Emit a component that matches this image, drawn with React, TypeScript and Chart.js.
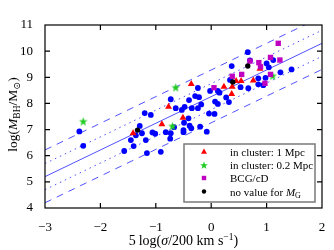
import { useEffect, useRef } from 'react';
import { Chart, registerables } from 'chart.js';
Chart.register(...registerables);

// ---- data ----
const blueX = [-2.38, -2.31, -1.29, -1.36, -1.45, -1.40, -1.57, -1.16, -1.06, -1.01, -1.25, -1.18, -0.91, -0.73, -1.20, -1.09, -0.64, -0.48, -0.53, -0.40, -0.29, -0.22, -0.18, -0.35, -0.24, -0.04, 0.06, -0.41, -0.49, -0.67, -0.50, -0.50, -0.36, -0.39, -0.20, -0.08, -0.82, -0.73, -0.74, 0.66, 0.37, 1.00, 1.04, 1.12, 0.70, 0.98, 0.85, 0.85, 0.34, 0.67, 0.53, 0.15, 0.27, 0.32, 0.07, 0.12, -0.24, -0.02, 0.12, 1.25, 1.45, 0.94];
const blueY = [6.93, 6.38, 7.14, 6.78, 6.60, 6.37, 6.18, 6.10, 6.89, 6.84, 6.86, 6.60, 6.15, 8.16, 7.63, 7.56, 7.82, 7.87, 7.75, 8.13, 8.28, 8.24, 7.96, 7.82, 7.82, 7.61, 7.60, 7.43, 7.26, 7.09, 6.98, 6.90, 7.05, 7.15, 7.11, 6.92, 6.90, 6.86, 6.65, 9.96, 9.43, 9.53, 9.38, 9.66, 9.65, 8.98, 8.96, 8.73, 8.90, 8.58, 8.62, 8.41, 8.23, 8.05, 8.07, 7.98, 8.59, 8.48, 8.48, 9.19, 9.30, 8.70];

const redX = [-1.41, -0.36, -0.77, -0.89, -0.51, 0.88, 0.45, 0.54, 0.76, 0.23, 0.38, 0.37];
const redY = [6.86, 8.74, 7.87, 7.20, 7.45, 9.33, 8.86, 8.86, 8.88, 8.64, 8.64, 8.36];

const greenX = [-2.31, -0.64, -0.70, 1.11];
const greenY = [7.32, 8.62, 7.14, 9.06];

const magX = [1.21, 0.70, 0.86, 1.07, 1.24, 1.07, 0.97, 0.55, 0.38, 0.05, 0.89];
const magY = [10.30, 9.62, 9.56, 9.76, 9.66, 9.11, 8.77, 9.11, 9.04, 8.60, 9.40];

const blackX = [-1.33, 0.66, 0.39];
const blackY = [6.98, 9.43, 8.82];

// fit lines (end points read at x = -3 and x = 2)
const fitX = [-3, 2];
const fitMid = [5.2, 10.3];
const fitDotUp = [5.7, 10.8];
const fitDotLo = [4.7, 9.8];
const fitDashUp = [6.22, 11.32];
const fitDashLo = [4.2, 9.3];

const xTicks = [-3, -2, -1, 0, 1, 2];
const yTicks = [4, 5, 6, 7, 8, 9, 10, 11];

const legendLabels = ['in cluster: 1 Mpc', 'in cluster: 0.2 Mpc', 'BCG/cD', 'no value for '];

const SERIF = '"Liberation Serif", "DejaVu Serif", serif';

const pts = (xs: number[], ys: number[]) => xs.map((x, i) => ({ x, y: ys[i] }));

function makeStar(size: number, color: string) {
  const c = document.createElement('canvas');
  c.width = size;
  c.height = size;
  const g = c.getContext('2d')!;
  g.beginPath();
  for (let i = 0; i < 10; i++) {
    const r = i % 2 === 0 ? size / 2 : (size / 2) * 0.42;
    const a = -Math.PI / 2 + (i * Math.PI) / 5;
    g.lineTo(size / 2 + r * Math.cos(a), size / 2 + 0.5 + r * Math.sin(a));
  }
  g.closePath();
  g.fillStyle = color;
  g.fill();
  return c;
}

type Part = { t: string; size: number; italic?: boolean; dy?: number };

function richWidth(ctx: CanvasRenderingContext2D, parts: Part[]) {
  let w = 0;
  for (const p of parts) {
    ctx.font = `${p.italic ? 'italic ' : ''}${p.size}px ${SERIF}`;
    w += ctx.measureText(p.t).width;
  }
  return w;
}

function drawRich(ctx: CanvasRenderingContext2D, parts: Part[], x: number, y: number, align: 'left' | 'center') {
  const w = richWidth(ctx, parts);
  let cx = align === 'center' ? x - w / 2 : x;
  ctx.textAlign = 'left';
  ctx.textBaseline = 'alphabetic';
  for (const p of parts) {
    ctx.font = `${p.italic ? 'italic ' : ''}${p.size}px ${SERIF}`;
    ctx.fillText(p.t, cx, y + (p.dy || 0));
    cx += ctx.measureText(p.t).width;
  }
}

const BLUE = '#0000ff';
const RED = '#ff0000';
const GREEN = '#22cc22';
const MAG = '#c000c0';
const BLACK = '#000000';
const LINE = 'rgba(50,50,255,0.85)';

export default function App() {
  const ref = useRef<HTMLCanvasElement>(null);
  useEffect(() => {
    document.body.style.margin = '0';
    const star = makeStar(9, GREEN);
    const starSmall = makeStar(8, GREEN);

    const framePlugin = {
      id: 'frame',
      afterDraw(chart: any) {
        const ctx: CanvasRenderingContext2D = chart.ctx;
        const a = chart.chartArea;
        const xs = chart.scales.x;
        const ys = chart.scales.y;
        ctx.save();
        ctx.strokeStyle = '#000';
        ctx.lineWidth = 1.2;
        ctx.strokeRect(a.left, a.top, a.right - a.left, a.bottom - a.top);
        const tl = 5;
        ctx.beginPath();
        for (const v of xTicks) {
          const px = xs.getPixelForValue(v);
          if (px <= a.left + 1 || px >= a.right - 1) continue;
          ctx.moveTo(px, a.bottom);
          ctx.lineTo(px, a.bottom - tl);
          ctx.moveTo(px, a.top);
          ctx.lineTo(px, a.top + tl);
        }
        for (const v of yTicks) {
          const py = ys.getPixelForValue(v);
          if (py <= a.top + 1 || py >= a.bottom - 1) continue;
          ctx.moveTo(a.left, py);
          ctx.lineTo(a.left + tl, py);
          ctx.moveTo(a.right, py);
          ctx.lineTo(a.right - tl, py);
        }
        ctx.stroke();

        // axis titles
        ctx.fillStyle = '#000';
        drawRich(ctx, [
          { t: '5\u2009log(', size: 14 },
          { t: 'σ', size: 14, italic: true },
          { t: '/200 km s', size: 14 },
          { t: '−1', size: 9.5, dy: -5.5 },
          { t: ')', size: 14 },
        ], (a.left + a.right) / 2, 245, 'center');

        ctx.save();
        ctx.translate(17, (a.top + a.bottom) / 2 - 2);
        ctx.rotate(-Math.PI / 2);
        drawRich(ctx, [
          { t: 'log(', size: 13.5 },
          { t: 'M', size: 13.5, italic: true },
          { t: 'BH', size: 9.5, dy: 3 },
          { t: '/M', size: 13.5 },
          { t: '⊙', size: 9.5, dy: 3 },
          { t: ')', size: 13.5 },
        ], 0, 0, 'center');
        ctx.restore();

        // legend
        const bw = 131, bh = 58;
        const bx = a.right - 7 - bw;
        const by = a.bottom - 6 - bh;
        ctx.fillStyle = '#fff';
        ctx.fillRect(bx, by, bw, bh);
        ctx.strokeStyle = '#7a7a7a';
        ctx.lineWidth = 1.5;
        ctx.strokeRect(bx, by, bw, bh);
        const mx = bx + 20;
        const tx = bx + 46;
        const rows = [by + 7.5, by + 21, by + 34, by + 47.5];
        // markers
        ctx.fillStyle = RED;
        ctx.beginPath();
        ctx.moveTo(mx, rows[0] - 3);
        ctx.lineTo(mx + 3, rows[0] + 2.2);
        ctx.lineTo(mx - 3, rows[0] + 2.2);
        ctx.closePath();
        ctx.fill();
        ctx.drawImage(starSmall, mx - 4, rows[1] - 4);
        ctx.fillStyle = MAG;
        ctx.fillRect(mx - 2.2, rows[2] - 2.2, 4.4, 4.4);
        ctx.fillStyle = BLACK;
        ctx.beginPath();
        ctx.arc(mx, rows[3], 2.2, 0, Math.PI * 2);
        ctx.fill();
        ctx.fillStyle = '#000';
        for (let i = 0; i < 3; i++) {
          drawRich(ctx, [{ t: legendLabels[i], size: 11 }], tx, rows[i] + 4, 'left');
        }
        drawRich(ctx, [
          { t: legendLabels[3], size: 11 },
          { t: 'M', size: 11, italic: true },
          { t: 'G', size: 8, dy: 2.5 },
        ], tx, rows[3] + 4, 'left');
        ctx.restore();
      },
    };

    const lineDs = (ys: number[], dash: number[]) => ({
      type: 'line' as const,
      data: pts(fitX, ys),
      borderColor: LINE,
      borderWidth: 1,
      borderDash: dash,
      pointRadius: 0,
      fill: false,
      order: 10,
    });

    const chart = new Chart(ref.current!, {
      type: 'scatter',
      data: {
        datasets: [
          { data: pts(blackX, blackY), backgroundColor: BLACK, borderWidth: 0, pointRadius: 2.7, pointStyle: 'circle', order: 0 },
          { data: pts(magX, magY), backgroundColor: MAG, borderWidth: 0, pointRadius: 3.8, pointStyle: 'rect', order: 1 },
          { data: pts(greenX, greenY), backgroundColor: GREEN, borderWidth: 0, pointStyle: star as any, order: 2 },
          { data: pts(redX, redY), backgroundColor: RED, borderWidth: 0, pointRadius: 4, pointStyle: 'triangle', order: 3 },
          { data: pts(blueX, blueY), backgroundColor: BLUE, borderWidth: 0, pointRadius: 2.9, pointStyle: 'circle', order: 4 },
          lineDs(fitMid, []),
          lineDs(fitDotUp, [1.5, 4]),
          lineDs(fitDotLo, [1.5, 4]),
          lineDs(fitDashUp, [7, 6]),
          lineDs(fitDashLo, [7, 6]),
        ] as any,
      },
      options: {
        responsive: false,
        animation: false,
        events: [],
        layout: { padding: { top: 25, right: 12, left: 0, bottom: 0 } },
        plugins: { legend: { display: false }, tooltip: { enabled: false } },
        scales: {
          x: {
            type: 'linear',
            min: -3,
            max: 2,
            afterFit: (s: any) => { s.height = 42; },
            afterBuildTicks: (s: any) => { s.ticks = xTicks.map((v) => ({ value: v })); },
            grid: { display: false },
            border: { display: false },
            ticks: {
              padding: 4,
              color: '#000',
              font: { family: SERIF, size: 13 },
              callback: (v: any) => String(v).replace('-', '−'),
            },
          },
          y: {
            type: 'linear',
            min: 4,
            max: 11,
            afterFit: (s: any) => { s.width = 45; },
            afterBuildTicks: (s: any) => { s.ticks = yTicks.map((v) => ({ value: v })); },
            grid: { display: false },
            border: { display: false },
            ticks: {
              padding: 4,
              color: '#000',
              font: { family: SERIF, size: 13 },
            },
          },
        },
      },
      plugins: [framePlugin],
    });
    return () => chart.destroy();
  }, []);
  return (
    <div style={{ width: 334, height: 250, background: '#fff' }}>
      <canvas ref={ref} width={334} height={250} style={{ display: 'block' }} />
    </div>
  );
}
